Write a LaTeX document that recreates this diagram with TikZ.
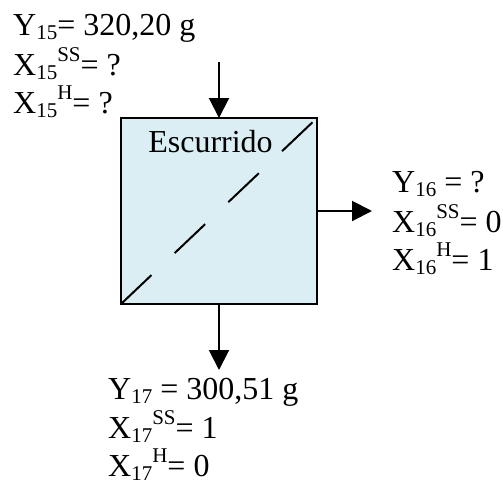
\documentclass[tikz,border=0pt]{standalone}
\usepackage{fontspec}
\setmainfont{Liberation Serif}
\usetikzlibrary{arrows.meta}
\definecolor{boxfill}{RGB}{218,238,243}
\newcommand\lsub[1]{\raisebox{-4pt}{\fontsize{21}{21}\selectfont#1}}
\newcommand\lsup[1]{\raisebox{14pt}{\fontsize{21}{21}\selectfont#1}}
\tikzset{
  txt/.style={anchor=base west,inner sep=0pt,font=\fontsize{32}{38}\selectfont},
  flow/.style={line width=2pt,-{Triangle[width=20pt,length=20pt]}},
  unitbox/.style={draw,line width=2pt,fill=boxfill,minimum width=196pt,minimum height=186pt,inner sep=0pt,outer sep=0pt}
}
\begin{document}
\begin{tikzpicture}[x=1pt,y=-1pt]
\useasboundingbox (0,0) rectangle (503,485);
\node[unitbox] (box) at (219,211) {};
\node[txt,anchor=base] (lbl) at (210.5,152) {Escurrido};
\draw[line width=2pt,dash pattern=on 42pt off 32pt] (box.south west) -- (box.north east);
\coordinate (in) at (219,62);
\coordinate (out) at (372,211);
\coordinate (down) at (219,370);
\draw[flow] (in) -- (box.north);
\draw[flow] (box.east) -- (out);
\draw[flow] (box.south) -- (down);
% top stream
\node[txt] (t1) at (13,35) {Y\lsub{15}= 320,20 g};
\node[txt] (t2) at (13,75) {X\lsub{15}\lsup{SS}= ?};
\node[txt] (t3) at (13,113) {X\lsub{15}\lsup{H}= ?};
% right stream
\node[txt] (r1) at (392,192) {Y\lsub{16} = ?};
\node[txt] (r2) at (392,232) {X\lsub{16}\lsup{SS}= 0};
\node[txt] (r3) at (392,270) {X\lsub{16}\lsup{H}= 1};
% bottom stream
\node[txt] (b1) at (108,399) {Y\lsub{17} = 300,51 g};
\node[txt] (b2) at (108,438) {X\lsub{17}\lsup{SS}= 1};
\node[txt] (b3) at (108,476) {X\lsub{17}\lsup{H}= 0};
\end{tikzpicture}
\end{document}
